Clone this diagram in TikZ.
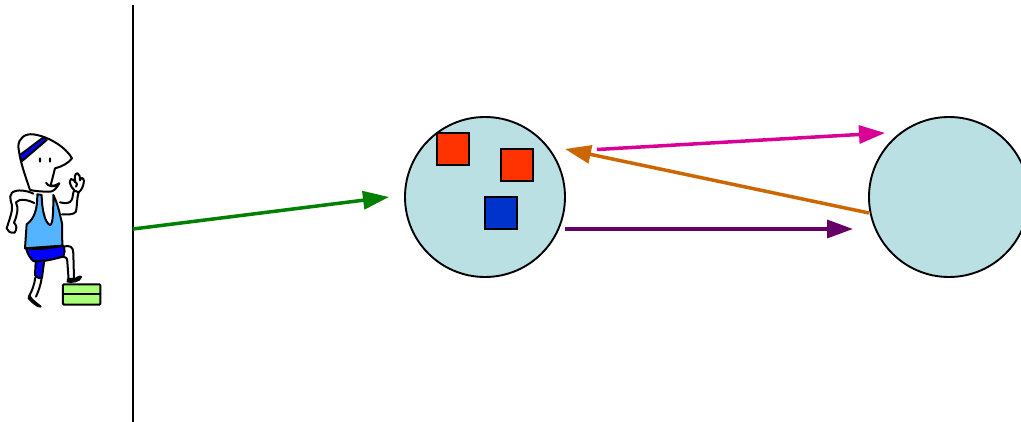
\documentclass[tikz,border=0pt]{standalone}
\definecolor{circfill}{RGB}{187,224,227}
\definecolor{redsq}{RGB}{255,51,0}
\definecolor{bluesq}{RGB}{0,51,204}
\definecolor{grn}{RGB}{0,128,0}
\definecolor{mag}{RGB}{217,0,149}
\definecolor{org}{RGB}{204,102,0}
\definecolor{pur}{RGB}{102,0,102}
\definecolor{shirt}{RGB}{85,180,255}
\definecolor{shorts}{RGB}{0,0,255}
\definecolor{stepc}{RGB}{170,255,120}
\usetikzlibrary{arrows.meta}
\tikzset{
 bubble/.style={circle,draw=black,fill=circfill,line width=1.9pt,minimum size=160pt,inner sep=0pt,outer sep=0pt},
 tile/.style={rectangle,draw=black,line width=1.9pt,minimum size=32pt,inner sep=0pt,outer sep=0pt},
 flow/.style={line width=3.5pt,-{Triangle[length=26pt,width=18pt]}},
 ink/.style={line width=2pt,line cap=round,line join=round},
}
\begin{document}
\begin{tikzpicture}[x=1pt,y=-1pt]
\useasboundingbox (0,0) rectangle (1021,422);
\begin{scope}
\clip (0,0) rectangle (1021,422);
\node[bubble] (c1) at (485,197) {};
\node[bubble] (c2) at (949,197) {};
\node[tile,fill=redsq] (r1) at (453,149) {};
\node[tile,fill=redsq] (r2) at (517,165) {};
\node[tile,fill=bluesq] (b1) at (501,213) {};
\coordinate (wt) at (133,5);
\coordinate (wb) at (133,422);
\draw[line width=2pt] (wt) -- (wb);
\coordinate (g0) at (133,229);
\coordinate (g1) at (389,197);
\draw[flow,grn] (g0) -- (g1);
\coordinate (m0) at (597,149.5);
\coordinate (m1) at (885,133);
\draw[flow,mag] (m0) -- (m1);
\coordinate (o0) at (869,213);
\coordinate (o1) at (565,149);
\draw[flow,org] (o0) -- (o1);
\coordinate (p0) at (565,229);
\coordinate (p1) at (853,229);
\draw[flow,pur] (p0) -- (p1);
\end{scope}
% runner
\begin{scope}[shift={(0,125)},x=0.3333pt,y=-0.3333pt]
% shirt
\draw[ink,fill=shirt] (112,208) .. controls (112,250) and (105,280) .. (80,298) -- (75,370) -- (187,362) -- (186,295) .. controls (180,270) and (175,240) .. (160,210) .. controls (160,250) and (160,300) .. (150,300) .. controls (135,295) and (125,250) .. (125,210) -- cycle;
% shorts
\draw[ink,fill=shorts] (78,370) .. controls (110,375) and (150,370) .. (190,362) .. controls (195,375) and (195,385) .. (190,395) .. controls (160,402) and (130,412) .. (100,408) .. controls (90,400) and (82,385) .. (78,370) -- cycle;
% thigh
\draw[ink,fill=shorts] (107,410) -- (105,450) .. controls (108,458) and (122,462) .. (126,458) -- (133,405) -- cycle;
% rear leg
\draw[ink] (106,458) .. controls (103,480) and (95,500) .. (88,512);
\draw[ink] (125,460) .. controls (122,480) and (115,500) .. (108,515);
\draw[ink,fill=black] (88,512) .. controls (95,525) and (110,535) .. (122,545) .. controls (110,545) and (95,530) .. (86,520) -- cycle;
% front leg
\draw[ink] (190,365) .. controls (210,360) and (220,365) .. (220,385) -- (222,460);
\draw[ink] (190,395) .. controls (198,395) and (202,400) .. (202,410) -- (206,465);
\draw[ink,fill=black] (204,462) -- (225,462) .. controls (232,458) and (240,452) .. (243,456) .. controls (240,470) and (215,472) .. (203,470) -- cycle;
% rear arm
\draw[ink] (100,206) .. controls (80,196) and (50,192) .. (36,203) .. controls (22,218) and (40,235) .. (36,255) .. controls (32,275) and (26,290) .. (20,310) .. controls (22,318) and (30,325) .. (44,323) .. controls (52,312) and (50,300) .. (42,293) .. controls (52,270) and (56,250) .. (48,232) .. controls (60,218) and (85,225) .. (103,234);
% front arm
\draw[ink] (180,232) .. controls (195,236) and (210,236) .. (215,225) .. controls (220,215) and (218,200) .. (224,195);
\draw[ink] (186,268) .. controls (205,268) and (220,270) .. (228,260) .. controls (232,240) and (230,220) .. (236,202);
\draw[ink,fill=white] (224,197) .. controls (212,185) and (205,170) .. (213,162) .. controls (220,162) and (224,168) .. (226,172) .. controls (222,158) and (225,143) .. (233,145) .. controls (240,148) and (240,158) .. (240,166) .. controls (244,155) and (250,158) .. (252,168) .. controls (250,185) and (245,195) .. (236,202) -- cycle;
\draw[ink] (228,172) .. controls (232,176) and (232,180) .. (228,185);
% head
\draw[ink,fill=white] (90,195) .. controls (75,150) and (60,110) .. (55,65) .. controls (55,40) and (75,25) .. (100,28) .. controls (150,35) and (200,70) .. (216,100) .. controls (205,115) and (185,125) .. (165,130) .. controls (160,150) and (155,170) .. (152,180) .. controls (160,185) and (170,180) .. (178,175) .. controls (170,190) and (160,200) .. (150,200) .. controls (135,200) and (115,200) .. (90,195) -- cycle;
% smile
\draw[ink] (138,173) .. controls (145,185) and (160,188) .. (175,178);
% headband
\draw[ink,fill=shorts] (60,90) -- (132,36) -- (140,45) -- (64,110) -- cycle;
% eyes
\fill (120,105) ellipse (1.1pt and 2.7pt);
\fill (150,105) ellipse (1.1pt and 2.7pt);
\end{scope}
% step
\begin{scope}[shift={(0,125)},x=0.3333pt,y=-0.3333pt]
\draw[line width=2pt,rounded corners=1pt,fill=stepc] (189,478) rectangle (301,539);
\draw[line width=2pt] (189,508) -- (301,508);
\end{scope}
\end{tikzpicture}
\end{document}
